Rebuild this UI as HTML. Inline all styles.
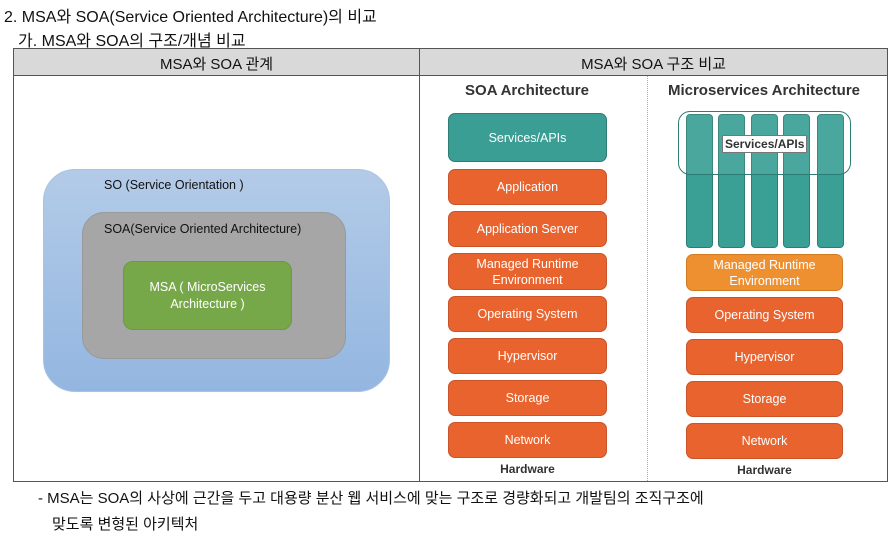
<!DOCTYPE html><html><head><meta charset="utf-8"><style>
body{margin:0;width:894px;height:538px;background:#fff;position:relative;overflow:hidden;font-family:"Liberation Sans","Noto Sans CJK KR",sans-serif;color:#111}
.a{position:absolute}
.t{font-size:15px;white-space:nowrap}
.b{position:absolute;border-radius:7px;color:#fff;font-size:12.5px;text-align:center;display:flex;align-items:center;justify-content:center;line-height:16px;box-sizing:border-box}
.o{background:#e8632e;border:1px solid #c9542a}
.g{background:#3a9e94;border:1px solid #2d7d75}
.y{background:#ef9030;border:1px solid #d07b22}
.bar{position:absolute;top:114px;width:27px;height:134px;background:#3aa096;border:1px solid #2d7d75;border-radius:4px;box-sizing:border-box}
</style></head><body>
<div class="a t" style="left:4px;top:3px;font-size:16px">2. MSA와 SOA(Service Oriented Architecture)의 비교</div>
<div class="a t" style="left:18px;top:27px;font-size:16px">가. MSA와 SOA의 구조/개념 비교</div>
<div class="a" style="left:13px;top:48px;width:875px;height:434px;border:1px solid #555;box-sizing:border-box"></div>
<div class="a" style="left:14px;top:49px;width:873px;height:26px;background:#d9d9d9;border-bottom:1px solid #555"></div>
<div class="a" style="left:419px;top:48px;width:1px;height:434px;background:#555"></div>
<div class="a" style="left:647px;top:76px;height:405px;border-left:1px dotted #aaa"></div>
<div class="a t" style="left:14px;top:53px;width:405px;text-align:center">MSA와 SOA 관계</div>
<div class="a t" style="left:420px;top:53px;width:467px;text-align:center">MSA와 SOA 구조 비교</div>

<div class="a" style="left:43px;top:169px;width:347px;height:223px;border-radius:32px;background:linear-gradient(#b3cbe8,#93b6e0);border:1px solid #a9c2e2;box-sizing:border-box"></div>
<div class="a" style="left:104px;top:178px;font-size:12.5px">SO (Service Orientation )</div>
<div class="a" style="left:82px;top:212px;width:264px;height:147px;border-radius:22px;background:#a6a6a6;border:1px solid #999;box-sizing:border-box"></div>
<div class="a" style="left:104px;top:222px;font-size:12.5px">SOA(Service Oriented Architecture)</div>
<div class="a" style="left:123px;top:261px;width:169px;height:69px;border-radius:10px;background:#76a84a;border:1px solid #6a9a42;box-sizing:border-box;color:#fff;font-size:12.5px;text-align:center;padding-top:17px;line-height:17px">MSA ( MicroServices<br>Architecture )</div>

<div class="a" style="left:448px;top:82px;width:158px;text-align:center;font-weight:bold;font-size:15px;color:#333">SOA Architecture</div>
<div class="b g" style="left:448px;top:113px;width:159px;height:49px">Services/APIs</div>
<div class="b o" style="left:448px;top:169px;width:159px;height:36px">Application</div>
<div class="b o" style="left:448px;top:211px;width:159px;height:36px">Application Server</div>
<div class="b o" style="left:448px;top:253px;width:159px;height:37px">Managed Runtime<br>Environment</div>
<div class="b o" style="left:448px;top:296px;width:159px;height:36px">Operating System</div>
<div class="b o" style="left:448px;top:338px;width:159px;height:36px">Hypervisor</div>
<div class="b o" style="left:448px;top:380px;width:159px;height:36px">Storage</div>
<div class="b o" style="left:448px;top:422px;width:159px;height:36px">Network</div>
<div class="a" style="left:448px;top:462px;width:159px;text-align:center;font-weight:bold;font-size:12px;color:#333">Hardware</div>

<div class="a" style="left:653px;top:82px;width:222px;text-align:center;font-weight:bold;font-size:15px;color:#333">Microservices Architecture</div>
<div class="bar" style="left:686px"></div>
<div class="bar" style="left:718px"></div>
<div class="bar" style="left:751px"></div>
<div class="bar" style="left:783px"></div>
<div class="bar" style="left:817px"></div>
<div class="a" style="left:678px;top:111px;width:173px;height:64px;border:1.5px solid #2d7d75;border-radius:12px;box-sizing:border-box;background:rgba(255,255,255,0.08)"></div>
<div class="a" style="left:722px;top:135px;background:#fff;border:1px solid #777;font-weight:bold;font-size:12px;padding:1px 2px;color:#333">Services/APIs</div>
<div class="b y" style="left:686px;top:254px;width:157px;height:37px">Managed Runtime<br>Environment</div>
<div class="b o" style="left:686px;top:297px;width:157px;height:36px">Operating System</div>
<div class="b o" style="left:686px;top:339px;width:157px;height:36px">Hypervisor</div>
<div class="b o" style="left:686px;top:381px;width:157px;height:36px">Storage</div>
<div class="b o" style="left:686px;top:423px;width:157px;height:36px">Network</div>
<div class="a" style="left:686px;top:463px;width:157px;text-align:center;font-weight:bold;font-size:12px;color:#333">Hardware</div>

<div class="a t" style="left:38px;top:487px">- MSA는 SOA의 사상에 근간을 두고 대용량 분산 웹 서비스에 맞는 구조로 경량화되고 개발팀의 조직구조에</div>
<div class="a t" style="left:52px;top:513px">맞도록 변형된 아키텍처</div>
</body></html>
